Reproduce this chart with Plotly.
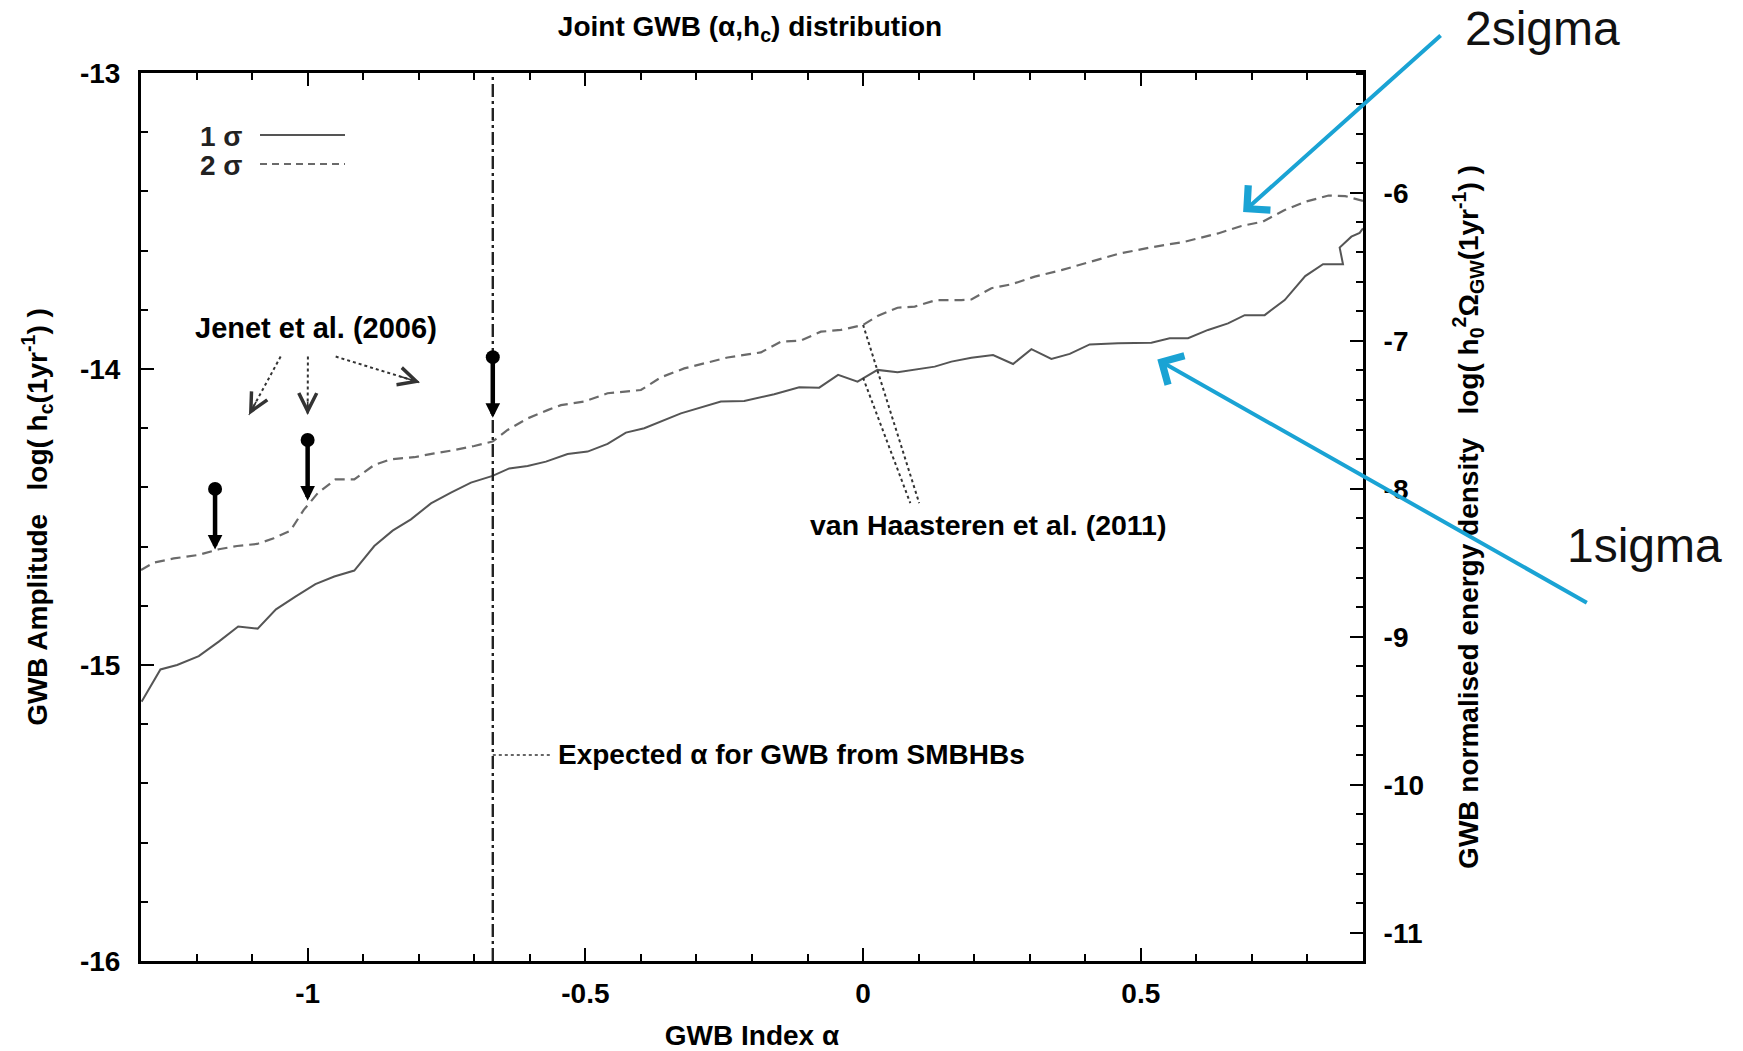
import plotly.graph_objects as go

# ---------------- data ----------------
sig1_alpha = [-1.299, -1.265, -1.235, -1.196, -1.160, -1.125, -1.090, -1.057, -1.022, -0.986,
              -0.952, -0.916, -0.880, -0.847, -0.814, -0.778, -0.742, -0.706, -0.667, -0.637,
              -0.604, -0.571, -0.532, -0.496, -0.460, -0.427, -0.394, -0.328, -0.256, -0.214,
              -0.160, -0.115, -0.079, -0.045, -0.010, 0.026, 0.062, 0.129, 0.159, 0.195,
              0.234, 0.270, 0.303, 0.339, 0.372, 0.408, 0.459, 0.519, 0.552, 0.585,
              0.621, 0.657, 0.687, 0.723, 0.759, 0.796, 0.828, 0.864, 0.858, 0.879,
              0.894, 0.900]
sig1_logh = [-15.124, -15.015, -15.000, -14.970, -14.921, -14.870, -14.877, -14.812, -14.769, -14.727,
             -14.701, -14.681, -14.598, -14.546, -14.508, -14.454, -14.418, -14.384, -14.361, -14.336,
             -14.328, -14.313, -14.287, -14.279, -14.253, -14.215, -14.200, -14.150, -14.110, -14.108,
             -14.085, -14.062, -14.063, -14.020, -14.043, -14.003, -14.011, -13.992, -13.975, -13.962,
             -13.953, -13.983, -13.933, -13.966, -13.949, -13.917, -13.913, -13.911, -13.896, -13.896,
             -13.868, -13.846, -13.818, -13.818, -13.767, -13.686, -13.646, -13.646, -13.590, -13.553,
             -13.540, -13.525]

sig2_alpha = [-1.300, -1.277, -1.241, -1.196, -1.160, -1.127, -1.091, -1.061, -1.031, -1.007,
              -0.982, -0.950, -0.916, -0.880, -0.850, -0.808, -0.772, -0.736, -0.700, -0.667,
              -0.640, -0.604, -0.568, -0.544, -0.502, -0.460, -0.400, -0.364, -0.322, -0.280,
              -0.244, -0.184, -0.148, -0.112, -0.076, -0.040, 0.000, 0.026, 0.062, 0.093,
              0.132, 0.177, 0.195, 0.231, 0.267, 0.309, 0.357, 0.411, 0.459, 0.519,
              0.579, 0.639, 0.681, 0.720, 0.759, 0.796, 0.838, 0.868, 0.900]
sig2_logh = [-14.679, -14.654, -14.640, -14.628, -14.609, -14.598, -14.591, -14.572, -14.546, -14.476,
             -14.420, -14.373, -14.373, -14.324, -14.305, -14.298, -14.285, -14.274, -14.260, -14.245,
             -14.206, -14.167, -14.139, -14.122, -14.110, -14.082, -14.071, -14.028, -13.998, -13.979,
             -13.961, -13.944, -13.908, -13.904, -13.874, -13.868, -13.851, -13.821, -13.793, -13.789,
             -13.767, -13.767, -13.765, -13.727, -13.714, -13.688, -13.666, -13.637, -13.611, -13.589,
             -13.570, -13.542, -13.517, -13.502, -13.463, -13.435, -13.414, -13.416, -13.432]

# Jenet et al. (2006) upper limits
jenet_alpha = [-7 / 6, -1.0, -2 / 3]
jenet_logh = [-14.405, -14.240, -13.960]
jenet_arrow_len = 0.205

expected_alpha = -2 / 3          # expected alpha for GWB from SMBHBs
omega_offset = 20.81             # log(h0^2 Omega_GW) = 2 log(h_c) + offset

x_range = [-1.3, 0.9]
y_range = [-16.0, -13.0]
y2_range = [2 * y_range[0] + omega_offset, 2 * y_range[1] + omega_offset]

x_tick_vals = [-1.0, -0.5, 0.0, 0.5]
x_tick_text = ["-1", "-0.5", "0", "0.5"]
y_tick_vals = [-16, -15, -14, -13]
y_tick_text = ["-16", "-15", "-14", "-13"]
y2_tick_vals = [-11, -10, -9, -8, -7, -6]
y2_tick_text = ["-11", "-10", "-9", "-8", "-7", "-6"]

# ---------------- styling ----------------
FONT = "Liberation Sans, Arial, Helvetica, sans-serif"
TXT = 28
BLUE = "#1aa3d4"

W, H = 1743, 1051
ML, MR, MT, MB = 141, 380, 73, 90


def minor_vals(lo, hi, step, majors):
    n = int(round((hi - lo) / step))
    vals = [round(lo + i * step, 6) for i in range(n + 1)]
    return [v for v in vals if all(abs(v - m) > 1e-6 for m in majors)]


def b(s):
    return "<b>" + s + "</b>"


fig = go.Figure()

fig.add_trace(go.Scatter(x=sig1_alpha, y=sig1_logh, mode="lines", name="1 σ",
                         line=dict(color="#555555", width=2), showlegend=False))
fig.add_trace(go.Scatter(x=sig2_alpha, y=sig2_logh, mode="lines", name="2 σ",
                         line=dict(color="#6a6a6a", width=2.2, dash="10px,6px"), showlegend=False))
fig.add_trace(go.Scatter(x=[expected_alpha, expected_alpha], y=y_range, mode="lines",
                         line=dict(color="#222222", width=2.4, dash="13px,4px,3px,4px"),
                         showlegend=False))
fig.add_trace(go.Scatter(x=jenet_alpha, y=jenet_logh, mode="markers",
                         marker=dict(size=14, color="black"), showlegend=False))
# hidden trace to activate right axis
fig.add_trace(go.Scatter(x=[None], y=[None], yaxis="y2", showlegend=False))

annotations = []
shapes = []

# Jenet upper-limit arrows
for a, h in zip(jenet_alpha, jenet_logh):
    annotations.append(dict(x=a, y=h - jenet_arrow_len, ax=a, ay=h, xref="x", yref="y",
                            axref="x", ayref="y", showarrow=True, arrowhead=2,
                            arrowsize=0.65, arrowwidth=4.5, arrowcolor="black", text=""))

# dotted pointer arrows from "Jenet et al. (2006)" label
jenet_ptr = [((-1.0486, -13.958), (-1.1056, -14.155)),
             ((-0.9995, -13.958), (-1.0000, -14.155)),
             ((-0.9495, -13.958), (-0.7977, -14.046))]
for (x0, y0), (x1, y1) in jenet_ptr:
    shapes.append(dict(type="line", xref="x", yref="y", x0=x0, y0=y0, x1=x1, y1=y1,
                       line=dict(color="#333333", width=2, dash="dot")))
    annotations.append(dict(x=x1, y=y1, ax=x1 - 0.25 * (x1 - x0), ay=y1 - 0.25 * (y1 - y0),
                            xref="x", yref="y", axref="x", ayref="y", showarrow=True,
                            arrowhead=5, arrowsize=2.2, arrowwidth=1.6,
                            arrowcolor="#333333", text=""))

# van Haasteren dotted pointers
for (x0, y0), (x1, y1) in [((0.0, -13.851), (0.101, -14.453)),
                           ((0.0, -14.030), (0.085, -14.453))]:
    shapes.append(dict(type="line", xref="x", yref="y", x0=x0, y0=y0, x1=x1, y1=y1,
                       line=dict(color="#333333", width=2, dash="dot")))

# Expected alpha pointer
shapes.append(dict(type="line", xref="x", yref="y", x0=expected_alpha, y0=-15.304,
                   x1=-0.559, y1=-15.304, line=dict(color="#333333", width=1.6, dash="dot")))

annotations += [
    dict(x=-0.9856, y=-13.861, xref="x", yref="y", text=b("Jenet et al. (2006)"),
         showarrow=False, font=dict(size=29, color="black", family=FONT)),
    dict(x=0.225, y=-14.527, xref="x", yref="y", text=b("van Haasteren et al. (2011)"),
         showarrow=False, font=dict(size=28.5, color="black", family=FONT)),
    dict(x=-0.553, y=-15.304, xref="x", yref="y", text=b("Expected α for GWB from SMBHBs"),
         xanchor="left", showarrow=False, font=dict(size=TXT, color="black", family=FONT)),
]


def px2paper_x(px):
    return (px - ML) / (W - ML - MR)


def px2paper_y(py):
    return (H - MB - py) / (H - MT - MB)


# manual legend (label left, line sample right)
for label, py, dash, col in [("1 σ", 136, "solid", "#555555"), ("2 σ", 165, "7px,5px", "#6a6a6a")]:
    annotations.append(dict(x=px2paper_x(245), y=px2paper_y(py), xref="paper", yref="paper",
                            text=b(label), xanchor="right", yanchor="middle", showarrow=False,
                            font=dict(size=TXT, color="#222222", family=FONT)))
    shapes.append(dict(type="line", xref="paper", yref="paper",
                       x0=px2paper_x(260), x1=px2paper_x(345),
                       y0=px2paper_y(py - 1), y1=px2paper_y(py - 1),
                       line=dict(color=col, width=2, dash=dash)))

# blue call-out arrows and labels
annotations += [
    dict(x=0.6842, y=-13.470, xref="x", yref="y", ax=199, ay=-178, showarrow=True,
         arrowhead=4, arrowsize=1.6, arrowwidth=4, arrowcolor=BLUE, text=""),
    dict(x=0.5297, y=-13.968, xref="x", yref="y", ax=431, ay=244, showarrow=True,
         arrowhead=4, arrowsize=1.6, arrowwidth=4, arrowcolor=BLUE, text=""),
    dict(x=px2paper_x(1463), y=px2paper_y(28), xref="paper", yref="paper", text="2sigma",
         xanchor="left", yanchor="middle", showarrow=False,
         font=dict(size=48, color="#111111", family="Liberation Sans, Arial, sans-serif")),
    dict(x=px2paper_x(1565), y=px2paper_y(545), xref="paper", yref="paper", text="1sigma",
         xanchor="left", yanchor="middle", showarrow=False,
         font=dict(size=48, color="#111111", family="Liberation Sans, Arial, sans-serif")),
]

axis_common = dict(showgrid=False, zeroline=False, showline=True, linecolor="black",
                   linewidth=3, ticks="inside", ticklen=13, tickwidth=2, tickcolor="black",
                   automargin=False,
                   tickfont=dict(size=TXT, color="black", family=FONT, weight="bold"))

fig.update_layout(
    width=W, height=H,
    margin=dict(l=ML, r=MR, t=MT, b=MB, autoexpand=False),
    paper_bgcolor="white", plot_bgcolor="white",
    font=dict(family=FONT, color="black"),
    showlegend=False,
    title=dict(text=b("Joint GWB (α,h<sub>c</sub>) distribution"), x=750 / W,
               xanchor="center", y=1 - 26 / H, yanchor="middle",
               font=dict(size=TXT, color="black", family=FONT)),
    xaxis=dict(range=x_range, tickmode="array", tickvals=x_tick_vals, ticktext=x_tick_text,
               mirror="ticks", ticklabelstandoff=5,
               minor=dict(tickmode="array", tickvals=minor_vals(-1.3, 0.9, 0.1, x_tick_vals),
                          ticks="inside", ticklen=7, tickwidth=2, tickcolor="black"),
               title=dict(text=b("GWB Index α"), font=dict(size=TXT, color="black", family=FONT),
                          standoff=21),
               **axis_common),
    yaxis=dict(range=y_range, tickmode="array", tickvals=y_tick_vals, ticktext=y_tick_text,
               mirror=False, ticklabelstandoff=12,
               minor=dict(tickmode="array", tickvals=minor_vals(-16, -13, 0.2, y_tick_vals),
                          ticks="inside", ticklen=7, tickwidth=2, tickcolor="black"),
               title=dict(text=b("GWB Amplitude\u00a0\u00a0 log( h<sub>c</sub>(1yr<sup>-1</sup>) )"),
                          font=dict(size=TXT, color="black", family=FONT), standoff=25),
               **axis_common),
    yaxis2=dict(range=y2_range, overlaying="y", side="right", tickmode="array",
                tickvals=y2_tick_vals, ticktext=y2_tick_text, ticklabelstandoff=12,
                minor=dict(tickmode="array",
                           tickvals=minor_vals(-11.2, -5.2, 0.2, y2_tick_vals),
                           ticks="inside", ticklen=7, tickwidth=2, tickcolor="black"),
                title=dict(text=b("GWB normalised energy density\u00a0\u00a0 log( h<sub>0</sub><sup>2</sup>Ω<sub>GW</sub>(1yr<sup>-1</sup>) )"),
                           font=dict(size=TXT, color="black", family=FONT), standoff=36),
                **axis_common),
    annotations=annotations,
    shapes=shapes,
)

fig.write_html("out.html")
